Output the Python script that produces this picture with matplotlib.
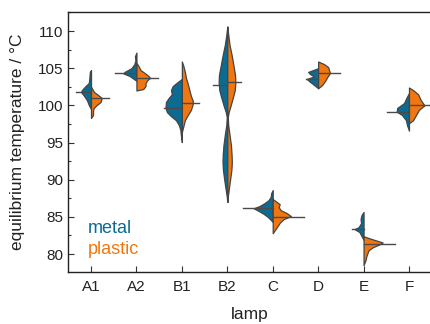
import numpy as np
import matplotlib
matplotlib.use("Agg")
import matplotlib.pyplot as plt
from matplotlib.ticker import MultipleLocator

plt.rcParams['font.family'] = ['Liberation Sans', 'DejaVu Sans']

lamps = ["A1", "A2", "B1", "B2", "C", "D", "E", "F"]

# violin half profiles: temperatures (°C) and half widths (category units)
metal_T = [
    [104.75, 104.5, 103.4, 103.0, 102.6, 102.06, 101.8, 101.25, 100.7, 100.0, 99.5],
    [107.1, 106.6, 106.1, 105.55, 105.0, 104.5, 104.3, 103.95, 103.5, 103.3],
    [103.55, 103.15, 102.6, 102.05, 101.5, 101.0, 100.45, 99.7, 99.1, 98.55, 98.0, 97.35, 96.7, 96.0, 95.05],
    [110.6, 109.45, 108.1, 106.8, 105.4, 104.1, 103.1, 102.05, 101.0, 99.9, 99.1, 98.4, 97.35, 96.0, 94.65, 93.3, 92.4, 91.3, 89.95, 88.6, 87.7, 87.0],
    [88.6, 88.2, 87.7, 87.25, 86.85, 86.45, 86.15, 85.8, 85.4, 85.0, 84.6, 84.3],
    [105.0, 104.75, 104.5, 104.2, 103.9, 103.55, 103.15, 102.75, 102.3],
    [85.65, 85.25, 84.7, 84.15, 83.6, 83.35, 82.95, 82.4, 81.9],
    [101.65, 101.1, 100.3, 99.65, 99.15, 98.7, 98.0, 97.35, 96.6],
]
metal_w = [
    [0.0, 0.025, 0.04, 0.05, 0.12, 0.2, 0.22, 0.15, 0.09, 0.045, 0.0],
    [0.0, 0.033, 0.022, 0.045, 0.11, 0.26, 0.29, 0.15, 0.045, 0.0],
    [0.0, 0.09, 0.2, 0.24, 0.22, 0.29, 0.35, 0.36, 0.33, 0.24, 0.13, 0.066, 0.033, 0.022, 0.0],
    [0.0, 0.022, 0.055, 0.1, 0.143, 0.183, 0.19, 0.176, 0.13, 0.077, 0.033, 0.011, 0.022, 0.055, 0.084, 0.1, 0.105, 0.095, 0.066, 0.033, 0.011, 0.0],
    [0.0, 0.033, 0.044, 0.09, 0.18, 0.29, 0.42, 0.31, 0.2, 0.11, 0.044, 0.0],
    [0.0, 0.11, 0.22, 0.176, 0.09, 0.25, 0.176, 0.09, 0.0],
    [0.0, 0.044, 0.066, 0.055, 0.11, 0.2, 0.09, 0.044, 0.0],
    [0.0, 0.05, 0.11, 0.26, 0.27, 0.154, 0.066, 0.044, 0.0],
]
plastic_T = [
    [102.5, 101.8, 101.4, 101.0, 100.45, 100.05, 99.6, 99.2, 98.7, 98.3],
    [105.7, 105.3, 104.75, 104.35, 103.95, 103.7, 103.4, 103.0, 102.6, 102.2, 102.0],
    [105.9, 105.3, 104.5, 103.7, 102.9, 102.05, 101.25, 100.6, 100.2, 99.4, 98.7, 98.0, 97.2, 96.4],
    [110.6, 109.45, 108.1, 106.8, 105.4, 104.1, 103.1, 102.05, 101.0, 99.9, 99.1, 98.4, 97.35, 96.0, 94.65, 93.3, 92.4, 91.3, 89.95, 88.6, 87.7, 87.0],
    [87.4, 87.1, 86.7, 86.3, 85.9, 85.5, 85.1, 84.7, 84.2, 83.6, 83.1, 82.8],
    [105.9, 105.55, 105.15, 104.75, 104.35, 103.8, 103.3, 102.75, 102.3],
    [82.4, 82.15, 81.8, 81.55, 81.35, 80.9, 80.5, 79.8, 79.2, 78.5],
    [102.4, 102.05, 101.5, 100.7, 100.0, 99.4, 98.7, 98.0, 97.6],
]
plastic_w = [
    [0.0, 0.066, 0.154, 0.235, 0.21, 0.125, 0.055, 0.044, 0.044, 0.0],
    [0.0, 0.045, 0.09, 0.18, 0.265, 0.3, 0.24, 0.2, 0.2, 0.15, 0.0],
    [0.0, 0.033, 0.066, 0.09, 0.13, 0.165, 0.2, 0.24, 0.24, 0.2, 0.13, 0.066, 0.033, 0.0],
    [0.0, 0.022, 0.05, 0.095, 0.135, 0.17, 0.178, 0.165, 0.12, 0.07, 0.03, 0.011, 0.02, 0.05, 0.08, 0.095, 0.1, 0.09, 0.06, 0.03, 0.011, 0.0],
    [0.0, 0.066, 0.154, 0.13, 0.176, 0.31, 0.4, 0.24, 0.154, 0.09, 0.033, 0.0],
    [0.0, 0.13, 0.22, 0.24, 0.26, 0.2, 0.154, 0.09, 0.0],
    [0.0, 0.11, 0.29, 0.42, 0.37, 0.2, 0.11, 0.066, 0.044, 0.0],
    [0.0, 0.09, 0.2, 0.26, 0.34, 0.22, 0.154, 0.09, 0.0],
]
metal_median = [101.8, 104.3, 99.7, 102.8, 86.15, 103.5, 83.35, 99.15]
plastic_median = [101.0, 103.7, 100.3, 103.1, 85.0, 104.4, 81.4, 100.0]
metal_median_len = [0.33, 0.48, 0.39, 0.31, 0.66, 0.26, 0.26, 0.48]
plastic_median_len = [0.40, 0.48, 0.37, 0.30, 0.68, 0.48, 0.70, 0.50]

BLUE = "#0b6b92"
ORANGE = "#f2760f"
EDGE = "#444444"
TEXT = "#222222"

fig = plt.figure(figsize=(4.3, 3.24), dpi=100)
ax = fig.add_axes([68.3 / 430, 52 / 324, 363.4 / 430, 260 / 324])

for i in range(len(lamps)):
    T = np.array(metal_T[i]); w = np.array(metal_w[i])
    ax.fill_betweenx(T, i - w, i, facecolor=BLUE, edgecolor=EDGE, linewidth=0.9, zorder=2)
    T = np.array(plastic_T[i]); w = np.array(plastic_w[i])
    ax.fill_betweenx(T, i, i + w, facecolor=ORANGE, edgecolor=EDGE, linewidth=0.9, zorder=2)
    ax.plot([i - metal_median_len[i], i], [metal_median[i]] * 2, color="#4a4a4a", lw=1.0, zorder=3)
    ax.plot([i, i + plastic_median_len[i]], [plastic_median[i]] * 2, color="#4a4a4a", lw=1.0, zorder=3)

ax.set_xlim(-0.5, 7.5)
ax.set_ylim(77.58, 112.56)
ax.set_xticks(range(len(lamps)))
ax.set_xticklabels(lamps)
ax.yaxis.set_major_locator(MultipleLocator(5))
ax.yaxis.set_minor_locator(MultipleLocator(2.5))
ax.tick_params(axis='both', which='major', direction='in', length=4, width=0.8,
               labelsize=11, labelcolor=TEXT, color='#333333')
ax.tick_params(axis='y', which='minor', direction='in', length=2.5, width=0.8, color='#333333')
ax.tick_params(axis='x', pad=6)
for s in ax.spines.values():
    s.set_linewidth(1.0)
    s.set_color('#222222')

ax.set_xlabel("lamp", fontsize=12.5, labelpad=9, color=TEXT)
ax.set_ylabel("equilibrium temperature / °C", fontsize=12.5, labelpad=9, color=TEXT)

ax.text(-0.06, 82.86, "metal", color=BLUE, fontsize=13, va='baseline', ha='left')
ax.text(-0.06, 80.0, "plastic", color=ORANGE, fontsize=13, va='baseline', ha='left')

fig.savefig("out.png", dpi=100)
